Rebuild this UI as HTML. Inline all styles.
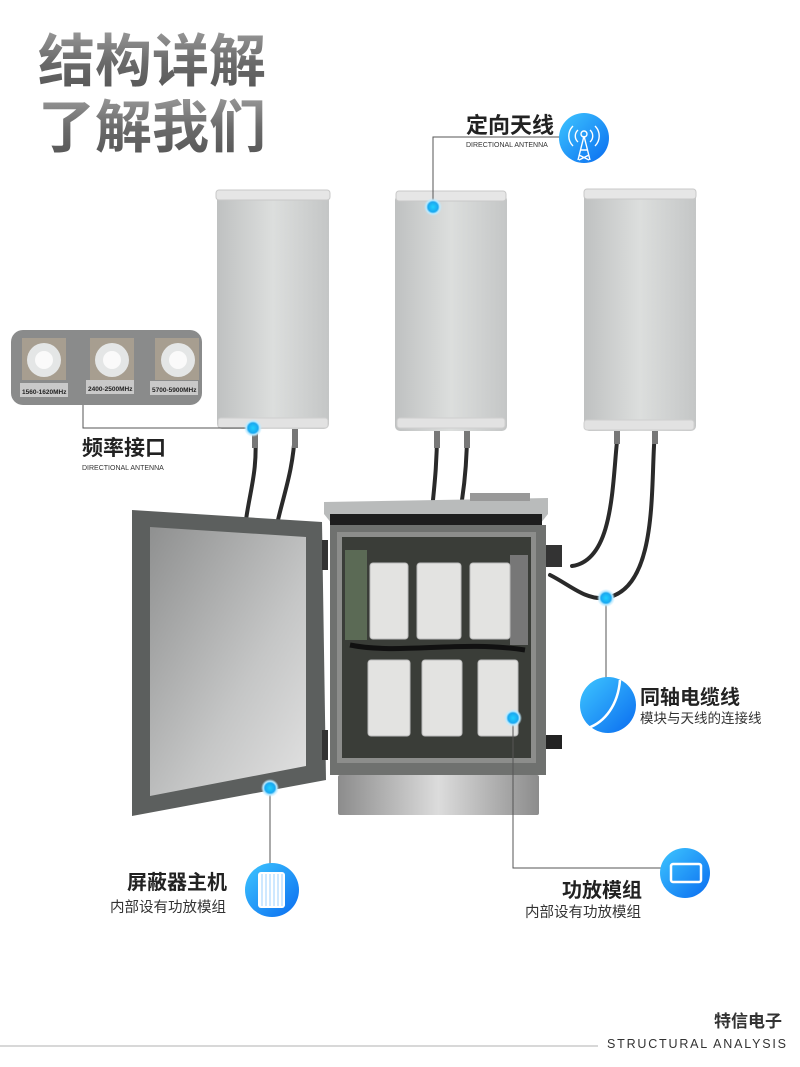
<!DOCTYPE html>
<html><head><meta charset="utf-8"><style>
html,body{margin:0;padding:0;background:#fff;}
svg{display:block}
text{font-family:"Liberation Sans","Noto Sans CJK SC",sans-serif;}
</style></head><body>
<svg width="800" height="1067" viewBox="0 0 800 1067" xmlns="http://www.w3.org/2000/svg">
<defs>
<linearGradient id="tg" x1="0" y1="0" x2="0" y2="1"><stop offset="0" stop-color="#999"/><stop offset="0.5" stop-color="#6a6a6a"/><stop offset="1" stop-color="#555"/></linearGradient>
<linearGradient id="ant" x1="0" y1="0" x2="1" y2="0"><stop offset="0" stop-color="#bfc1c1"/><stop offset="0.5" stop-color="#dcdedd"/><stop offset="1" stop-color="#c4c6c6"/></linearGradient>
<linearGradient id="door" x1="0" y1="0" x2="1" y2="1"><stop offset="0" stop-color="#8f9090"/><stop offset="0.6" stop-color="#c5c6c6"/><stop offset="1" stop-color="#e2e2e2"/></linearGradient>
<linearGradient id="base" x1="0" y1="0" x2="1" y2="0"><stop offset="0" stop-color="#8c8c8c"/><stop offset="0.5" stop-color="#dcdcdc"/><stop offset="1" stop-color="#8c8c8c"/></linearGradient>
<linearGradient id="blue" x1="0" y1="0" x2="1" y2="1"><stop offset="0" stop-color="#3ec6ff"/><stop offset="1" stop-color="#0a6cf0"/></linearGradient>
<radialGradient id="dot"><stop offset="0" stop-color="#1fd0ff"/><stop offset="0.55" stop-color="#1aa8f0"/><stop offset="0.75" stop-color="#bdeaff"/><stop offset="1" stop-color="#bdeaff" stop-opacity="0"/></radialGradient>
</defs>

<text x="38" y="81" font-size="57" font-weight="bold" fill="url(#tg)">结构详解</text>
<text x="38" y="147" font-size="57" font-weight="bold" fill="url(#tg)">了解我们</text>

<g fill="none" stroke="#2a2a2a" stroke-width="4" stroke-linecap="round">
<path d="M255 432 C258 470,250 490,246 520"/>
<path d="M295 432 C293 470,285 490,278 520"/>
<path d="M437 432 C437 460,435 480,433 500"/>
<path d="M467 432 C467 460,465 480,462 500"/>
<path d="M618 432 C612 480,615 560,572 566"/>
<path d="M655 432 C650 480,660 590,605 598 C585 600,570 585,550 575"/>
</g>
<g fill="#777"><rect x="252" y="428" width="6" height="20"/><rect x="292" y="428" width="6" height="20"/><rect x="434" y="428" width="6" height="20"/><rect x="464" y="428" width="6" height="20"/><rect x="614" y="428" width="6" height="16"/><rect x="652" y="428" width="6" height="16"/></g>

<g>
<rect x="217" y="193" width="112" height="236" rx="5" fill="url(#ant)"/>
<rect x="216" y="190" width="114" height="10" rx="3" fill="#e6e6e6" stroke="#c8c8c8"/>
<rect x="218" y="418" width="110" height="10" rx="3" fill="#e2e2e2" stroke="#cfcfcf"/>
<rect x="395" y="195" width="112" height="236" rx="5" fill="url(#ant)"/>
<rect x="396" y="191" width="110" height="10" rx="3" fill="#e6e6e6" stroke="#c8c8c8"/>
<rect x="397" y="418" width="108" height="10" rx="3" fill="#e2e2e2" stroke="#cfcfcf"/>
<rect x="584" y="193" width="112" height="238" rx="5" fill="url(#ant)"/>
<rect x="584" y="189" width="112" height="10" rx="3" fill="#e6e6e6" stroke="#c8c8c8"/>
<rect x="584" y="420" width="110" height="10" rx="3" fill="#e2e2e2" stroke="#cfcfcf"/>
</g>

<rect x="11" y="330" width="191" height="75" rx="12" fill="#8a8b8b"/>
<g>
<rect x="22" y="338" width="44" height="42" fill="#a79e90"/><circle cx="44" cy="360" r="17" fill="#e4e6e6"/><circle cx="44" cy="360" r="9" fill="#fafafa"/>
<rect x="90" y="338" width="44" height="42" fill="#a79e90"/><circle cx="112" cy="360" r="17" fill="#e4e6e6"/><circle cx="112" cy="360" r="9" fill="#fafafa"/>
<rect x="155" y="338" width="44" height="42" fill="#a79e90"/><circle cx="178" cy="360" r="17" fill="#e4e6e6"/><circle cx="178" cy="360" r="9" fill="#fafafa"/>
<rect x="20" y="383" width="48" height="14" fill="#c9c9c9"/><rect x="86" y="380" width="48" height="14" fill="#c9c9c9"/><rect x="150" y="381" width="48" height="14" fill="#c9c9c9"/>
<text x="22" y="394" font-size="6.5" font-family="Liberation Serif" font-weight="bold" fill="#222">1560-1620MHz</text>
<text x="88" y="391" font-size="6.5" font-family="Liberation Serif" font-weight="bold" fill="#222">2400-2500MHz</text>
<text x="152" y="392" font-size="6.5" font-family="Liberation Serif" font-weight="bold" fill="#222">5700-5900MHz</text>
</g>

<polygon points="132,510 322,522 326,780 132,816" fill="#5c5f5e"/>
<polygon points="150,527 306,537 306,766 150,796" fill="url(#door)"/>
<rect x="322" y="540" width="6" height="30" fill="#333"/><rect x="322" y="730" width="6" height="30" fill="#333"/>

<polygon points="324,502 548,498 548,514 540,524 332,524 324,514" fill="#b9bbbb"/>
<rect x="330" y="514" width="212" height="12" fill="#1e1e1e"/>
<rect x="330" y="525" width="216" height="250" fill="#6f716f"/>
<rect x="337" y="532" width="199" height="231" fill="#8c8d8b"/>
<rect x="342" y="537" width="189" height="221" fill="#3a3d38"/>
<rect x="345" y="550" width="22" height="90" fill="#5b6a55"/>
<rect x="510" y="555" width="18" height="90" fill="#777"/>
<g fill="#e3e3e1" stroke="#bbb">
<rect x="370" y="563" width="38" height="76" rx="3"/><rect x="417" y="563" width="44" height="76" rx="3"/><rect x="470" y="563" width="40" height="76" rx="3"/>
<rect x="368" y="660" width="42" height="76" rx="3"/><rect x="422" y="660" width="40" height="76" rx="3"/><rect x="478" y="660" width="40" height="76" rx="3"/>
</g>
<path d="M350 645 C400 655,460 640,525 650" stroke="#111" stroke-width="5" fill="none"/>
<rect x="546" y="545" width="16" height="22" fill="#333"/><rect x="546" y="735" width="16" height="14" fill="#222"/>
<rect x="338" y="775" width="201" height="40" rx="2" fill="url(#base)"/>
<rect x="470" y="493" width="60" height="8" fill="#999"/>

<g fill="none" stroke="#555" stroke-width="1">
<path d="M433 206 V137 H560"/>
<path d="M83 405 V428 H252"/>
<path d="M606 598 V690"/>
<path d="M270 788 V866"/>
<path d="M513 718 V868 H662"/>
</g>
<g fill="url(#dot)">
<circle cx="433" cy="207" r="9"/><circle cx="253" cy="428" r="9"/><circle cx="606" cy="598" r="9"/><circle cx="270" cy="788" r="9"/><circle cx="513" cy="718" r="9"/>
</g>

<text x="466" y="133" font-size="22" font-weight="bold" fill="#222">定向天线</text>
<text x="466" y="147" font-size="7" fill="#333">DIRECTIONAL ANTENNA</text>
<circle cx="584" cy="138" r="25" fill="url(#blue)"/>
<g stroke="#fff" stroke-width="1.4" fill="none"><path d="M578 130a8 8 0 0 0 0 12M590 130a8 8 0 0 1 0 12M573 126a14 14 0 0 0 0 20M595 126a14 14 0 0 1 0 20"/><path d="M584 136 L578 160 M584 136 L590 160 M580 150 H588 M579 155 L589 160 M589 155 L579 160"/></g>
<circle cx="584" cy="134" r="3" fill="none" stroke="#fff" stroke-width="1.4"/>

<text x="82" y="455" font-size="21" font-weight="bold" fill="#222">频率接口</text>
<text x="82" y="470" font-size="7" fill="#333">DIRECTIONAL ANTENNA</text>

<circle cx="608" cy="705" r="28" fill="url(#blue)"/>
<path d="M620 680 C618 705,605 722,588 728" stroke="#fff" stroke-width="2.5" fill="none"/>
<text x="640" y="704" font-size="20" font-weight="bold" fill="#222">同轴电缆线</text>
<text x="640" y="723" font-size="13.5" fill="#333">模块与天线的连接线</text>

<text x="127" y="889" font-size="20" font-weight="bold" fill="#222">屏蔽器主机</text>
<text x="110" y="912" font-size="14.5" fill="#333">内部设有功放模组</text>
<circle cx="272" cy="890" r="27" fill="url(#blue)"/>
<rect x="258" y="872" width="27" height="36" rx="3" fill="#fff"/>
<g stroke="#9cd0ff" stroke-width="1"><path d="M262 874V906M266 874V906M270 874V906M274 874V906M278 874V906M282 874V906"/></g>

<text x="562" y="897" font-size="20" font-weight="bold" fill="#222">功放模组</text>
<text x="525" y="917" font-size="14.5" fill="#333">内部设有功放模组</text>
<circle cx="685" cy="873" r="25" fill="url(#blue)"/>
<rect x="671" y="864" width="30" height="18" rx="2" fill="none" stroke="#fff" stroke-width="2.5"/>

<text x="714" y="1027" font-size="17" font-weight="bold" fill="#333">特信电子</text>
<line x1="0" y1="1046" x2="598" y2="1046" stroke="#ccc" stroke-width="1.5"/>
<text x="607" y="1048" font-size="12.5" letter-spacing="1.8" fill="#333">STRUCTURAL ANALYSIS</text>
</svg>
</body></html>
